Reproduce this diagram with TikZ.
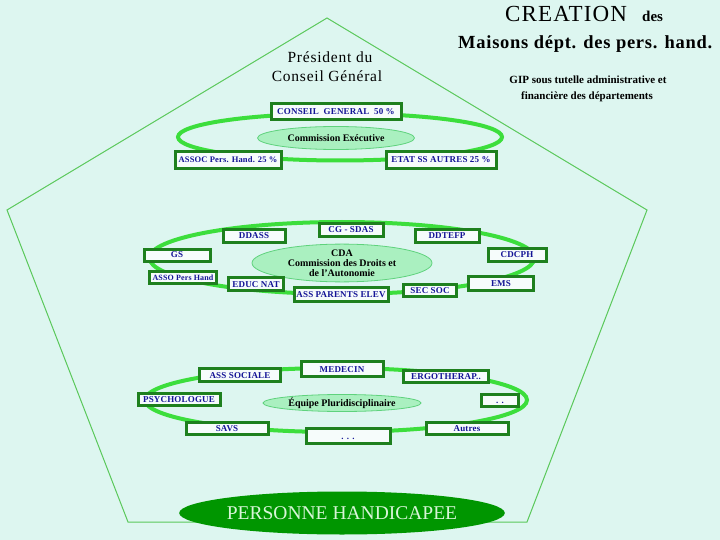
\documentclass[tikz,border=0pt]{standalone}
\usepackage{fontspec}
\setmainfont{Liberation Serif}
\newfontfamily\boxfont[LetterSpace=2]{Liberation Serif}
\newfontfamily\tightfont[LetterSpace=2]{Liberation Serif}
\newfontfamily\widefont[LetterSpace=5]{Liberation Serif}
\newfontfamily\titlefont[LetterSpace=4]{Liberation Serif}
\usetikzlibrary{shapes.geometric}
\definecolor{bgc}{RGB}{221,246,240}
\definecolor{pentc}{RGB}{90,200,90}
\definecolor{boxgreen}{RGB}{30,128,30}
\definecolor{boxfill}{RGB}{246,252,251}
\definecolor{boxblue}{RGB}{20,20,150}
\definecolor{ringc}{RGB}{60,222,60}
\definecolor{ellfill}{RGB}{170,240,192}
\definecolor{elldraw}{RGB}{95,210,125}
\definecolor{persfill}{RGB}{0,150,0}
\definecolor{perstext}{RGB}{215,245,215}
\tikzset{
  bx/.style={draw=boxgreen, line width=3pt, fill=boxfill, inner sep=0pt,
    text height=6pt, text depth=0pt,
    text=boxblue, font={\boxfont\bfseries\fontsize{9}{10}\selectfont}},
  ringst/.style={ellipse, draw=ringc, line width=4pt, inner sep=0pt},
  smallell/.style={ellipse, draw=elldraw, line width=0.8pt, fill=ellfill, inner sep=0pt,
    align=center, font={\bfseries\fontsize{10}{11}\selectfont}},
  pentline/.style={draw=pentc, line width=1pt}
}
\begin{document}
\begin{tikzpicture}[x=1pt,y=-1pt]
\fill[bgc] (0,0) rectangle (720,540);
\useasboundingbox (0,0) rectangle (720,540);

% pentagon
\coordinate (p1) at (327,18);
\coordinate (p2) at (647,210);
\coordinate (p3) at (527,522);
\coordinate (p4) at (128,522);
\coordinate (p5) at (7,210);
\draw[pentline] (p1) -- (p2) -- (p3) -- (p4) -- (p5) -- cycle;

% titles
\node[anchor=base west, inner sep=0pt, font={\widefont\fontsize{23}{26}\selectfont}] (tcre) at (505,22) {CREATION};
\node[anchor=base west, inner sep=0pt, font={\bfseries\fontsize{15}{17}\selectfont}] (tdes) at (642,22) {des};
\node[anchor=base west, inner sep=0pt, font={\titlefont\bfseries\fontsize{18.5}{21}\selectfont}] (tmais) at (458,49) {Maisons dépt. des pers. hand.};
\node[anchor=base, inner sep=0pt, font={\bfseries\fontsize{11}{13}\selectfont}] (tgip1) at (588,84) {GIP sous tutelle administrative et};
\node[anchor=base, inner sep=0pt, font={\bfseries\fontsize{11}{13}\selectfont}] (tgip2) at (587,100) {financière des départements};
\node[anchor=base, inner sep=0pt, font={\widefont\fontsize{15.5}{18}\selectfont}] (tpres1) at (330,63) {Président du};
\node[anchor=base, inner sep=0pt, font={\widefont\fontsize{15.5}{18}\selectfont}] (tpres2) at (327,82) {Conseil Général};

% rings
\node[ringst, minimum width=324pt, minimum height=47pt] (ringA) at (340,137) {};
\node[ringst, minimum width=385pt, minimum height=72pt] (ringB) at (342,258) {};
\node[ringst, minimum width=382pt, minimum height=64pt] (ringC) at (336,400) {};

% top group
\node[smallell, minimum width=157pt, minimum height=23pt] (commex) at (336,138) {Commission Exécutive};
\node[bx, minimum width=130pt, minimum height=16pt] (cg) at (336,112) {CONSEIL\ \ GENERAL\ \ 50 \%};
\node[bx, minimum width=106pt, minimum height=17pt, font={\boxfont\bfseries\fontsize{8.5}{10}\selectfont}] (assoc) at (228,160) {ASSOC Pers. Hand. 25 \%};
\node[bx, minimum width=110pt, minimum height=17pt] (etat) at (441,160) {ETAT SS AUTRES 25 \%};

% middle group
\node[smallell, minimum width=180pt, minimum height=37pt] (cda) at (342,263) {CDA\\[-1pt]Commission des Droits et\\[-1pt]de l'Autonomie};
\node[bx, minimum width=62pt, minimum height=13pt] (ddass) at (254,236) {DDASS};
\node[bx, minimum width=64pt, minimum height=13pt] (cgsdas) at (351,230) {CG - SDAS};
\node[bx, minimum width=64pt, minimum height=13pt] (ddtefp) at (447,236) {DDTEFP};
\node[bx, minimum width=66pt, minimum height=12pt] (gs) at (177,255) {GS};
\node[bx, minimum width=58pt, minimum height=13pt] (cdcph) at (517,255) {CDCPH};
\node[bx, minimum width=67pt, minimum height=12pt, font={\tightfont\bfseries\fontsize{8}{9}\selectfont}] (asso) at (183,277) {ASSO Pers Hand};
\node[bx, minimum width=55pt, minimum height=13pt] (educ) at (256,284) {EDUC NAT};
\node[bx, minimum width=94pt, minimum height=14pt] (parents) at (341,294) {ASS PARENTS ELEV};
\node[bx, minimum width=53pt, minimum height=12pt] (secsoc) at (430,290) {SEC SOC};
\node[bx, minimum width=65pt, minimum height=14pt] (ems) at (501,283) {EMS};

% lower group
\node[smallell, minimum width=158pt, minimum height=17pt] (equipe) at (342,403) {Équipe Pluridisciplinaire};
\node[bx, minimum width=81pt, minimum height=13pt] (asssoc) at (240,375) {ASS SOCIALE};
\node[bx, minimum width=82pt, minimum height=15pt] (medecin) at (342,369) {MEDECIN};
\node[bx, minimum width=85pt, minimum height=12pt] (ergo) at (446,376) {ERGOTHERAP..};
\node[bx, minimum width=82pt, minimum height=12pt] (psy) at (179,399) {PSYCHOLOGUE};
\node[bx, minimum width=37pt, minimum height=12pt] (dotsA) at (500,400) {. .};
\node[bx, minimum width=82pt, minimum height=12pt] (savs) at (227,428) {SAVS};
\node[bx, minimum width=84pt, minimum height=15pt] (dotsB) at (348,436) {. . .};
\node[bx, minimum width=82pt, minimum height=12pt] (autres) at (467,428) {Autres};

% person
\node[ellipse, fill=persfill, inner sep=0pt, minimum width=301pt, minimum height=43pt,
  text=perstext, font={\fontsize{19.5}{22}\selectfont}] (pers) at (342,513) {PERSONNE HANDICAPEE};
\end{tikzpicture}
\end{document}
